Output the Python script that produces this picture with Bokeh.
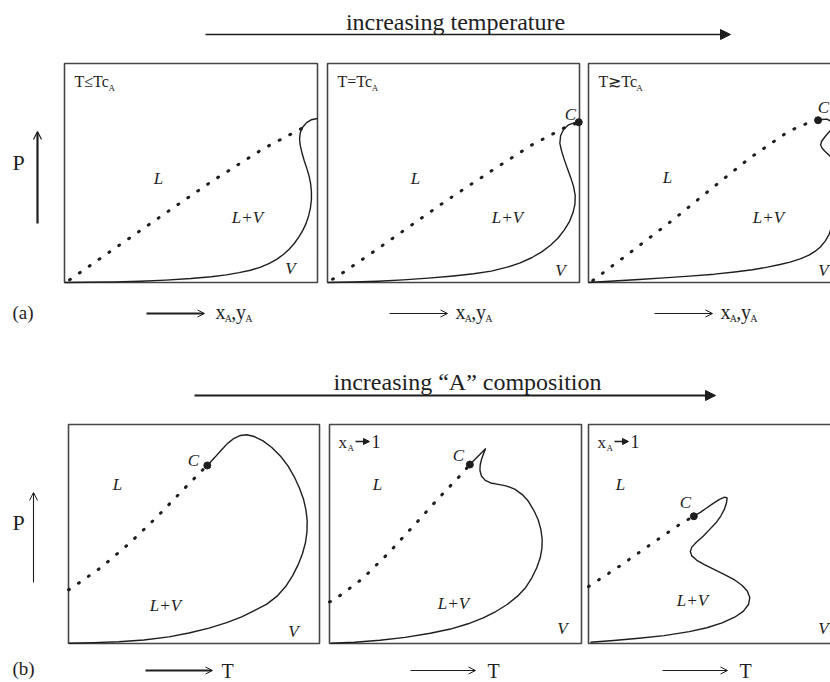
import numpy as np
from bokeh.plotting import figure
from bokeh.models import Range1d, Arrow, NormalHead, OpenHead
from bokeh.core.properties import value
from bokeh.embed import file_html
from bokeh.resources import INLINE

# ---------------------------------------------------------------------------
# Phase envelopes, in panel units: u runs 0..1 left to right, v runs 0..1 up.
# Row (a): P vs x_A,y_A at three temperatures. Row (b): P vs T at three
# compositions. "bubble" = dotted liquid boundary, "dew" = solid vapour boundary.
# ---------------------------------------------------------------------------
a1_bubble_u = [0.02, 0.2, 0.382, 0.581, 0.787, 0.96]
a1_bubble_v = [0.012, 0.157, 0.303, 0.461, 0.612, 0.717]
a1_dew_u = [0.0, 0.1, 0.2, 0.3, 0.4, 0.5, 0.58, 0.64, 0.69, 0.735, 0.775, 0.81, 0.84,
            0.865, 0.888, 0.908, 0.926, 0.942, 0.955, 0.965, 0.972, 0.976, 0.976, 0.973,
            0.967, 0.958, 0.948, 0.939, 0.932, 0.929, 0.932, 0.942, 0.957, 0.975, 1.0]
a1_dew_v = [0.0, 0.001, 0.003, 0.006, 0.011, 0.018, 0.026, 0.035, 0.045, 0.056, 0.07,
            0.087, 0.107, 0.128, 0.152, 0.178, 0.207, 0.238, 0.27, 0.305, 0.34, 0.378,
            0.415, 0.45, 0.485, 0.52, 0.555, 0.59, 0.625, 0.655, 0.685, 0.71, 0.73,
            0.743, 0.749]

a2_bubble_u = [0.02, 0.045, 0.167, 0.316, 0.472, 0.647, 0.812, 0.94, 0.99]
a2_bubble_v = [0.015, 0.032, 0.128, 0.248, 0.374, 0.507, 0.629, 0.706, 0.728]
a2_dew_u = [0.0, 0.1, 0.2, 0.3, 0.4, 0.5, 0.58, 0.65, 0.713, 0.765, 0.81, 0.85, 0.885,
            0.915, 0.94, 0.96, 0.974, 0.982, 0.983, 0.976, 0.965, 0.952, 0.94, 0.929,
            0.922, 0.925, 0.937, 0.957, 0.978, 0.997]
a2_dew_v = [0.0, 0.002, 0.006, 0.012, 0.02, 0.03, 0.04, 0.052, 0.07, 0.09, 0.113, 0.14,
            0.17, 0.203, 0.24, 0.278, 0.318, 0.358, 0.398, 0.44, 0.48, 0.52, 0.56, 0.6,
            0.635, 0.67, 0.7, 0.72, 0.729, 0.732]

a3_bubble_u = [0.017, 0.176, 0.332, 0.484, 0.636, 0.795, 0.884, 0.905]
a3_bubble_v = [0.009, 0.146, 0.283, 0.425, 0.565, 0.691, 0.735, 0.740]
a3_dew_u = [0.0, 0.1, 0.2, 0.3, 0.4, 0.5, 0.58, 0.65, 0.71, 0.76, 0.8, 0.84, 0.875, 0.9,
            0.92, 0.94, 0.955, 0.965, 0.975, 0.985, 0.99, 0.99, 0.984, 0.972, 0.958,
            0.94, 0.928, 0.921, 0.925, 0.94, 0.96, 0.968, 0.962, 0.947, 0.927, 0.911]
a3_dew_v = [0.0, 0.007, 0.014, 0.021, 0.029, 0.038, 0.048, 0.058, 0.07, 0.082, 0.093,
            0.108, 0.125, 0.143, 0.162, 0.19, 0.22, 0.255, 0.3, 0.36, 0.43, 0.48, 0.52,
            0.552, 0.578, 0.597, 0.612, 0.628, 0.645, 0.668, 0.694, 0.715, 0.735, 0.746,
            0.744, 0.741]

b1_bubble_u = [0.0, 0.012, 0.131, 0.243, 0.349, 0.45, 0.545]
b1_bubble_v = [0.245, 0.253, 0.348, 0.458, 0.574, 0.694, 0.805]
b1_dew_u = [0.001, 0.1, 0.2, 0.3, 0.4, 0.48, 0.56, 0.63, 0.69, 0.74, 0.79, 0.83, 0.865,
            0.893, 0.915, 0.932, 0.944, 0.95, 0.951, 0.946, 0.936, 0.92, 0.9, 0.875,
            0.845, 0.81, 0.775, 0.74, 0.71, 0.685, 0.66, 0.635, 0.61, 0.583, 0.553]
b1_dew_v = [0.001, 0.004, 0.008, 0.016, 0.03, 0.048, 0.07, 0.095, 0.122, 0.15, 0.18,
            0.215, 0.26, 0.31, 0.36, 0.41, 0.46, 0.51, 0.56, 0.61, 0.66, 0.71, 0.76,
            0.81, 0.855, 0.895, 0.925, 0.945, 0.953, 0.95, 0.937, 0.915, 0.885, 0.85,
            0.813]

b2_bubble_u = [0.0, 0.015, 0.13, 0.235, 0.335, 0.431, 0.531, 0.55]
b2_bubble_v = [0.19, 0.196, 0.295, 0.414, 0.539, 0.661, 0.782, 0.808]
b2_dew_u = [0.004, 0.1, 0.2, 0.3, 0.4, 0.48, 0.55, 0.61, 0.66, 0.705, 0.745, 0.778,
            0.803, 0.822, 0.836, 0.843, 0.844, 0.839, 0.828, 0.812, 0.79, 0.765, 0.735,
            0.7, 0.665, 0.64, 0.618, 0.603, 0.597, 0.598, 0.603, 0.611, 0.619, 0.557]
b2_dew_v = [0.001, 0.006, 0.015, 0.028, 0.047, 0.066, 0.09, 0.117, 0.146, 0.178, 0.215,
            0.255, 0.3, 0.345, 0.39, 0.435, 0.475, 0.52, 0.565, 0.605, 0.648, 0.68, 0.705,
            0.72, 0.728, 0.733, 0.745, 0.765, 0.79, 0.815, 0.84, 0.865, 0.889, 0.817]

b3_bubble_u = [0.0, 0.127, 0.246, 0.368, 0.41]
b3_bubble_v = [0.26, 0.356, 0.452, 0.549, 0.576]
b3_dew_u = [0.008, 0.1, 0.2, 0.3, 0.4, 0.47, 0.53, 0.58, 0.615, 0.635, 0.64, 0.63, 0.61,
            0.58, 0.54, 0.5, 0.46, 0.43, 0.41, 0.404, 0.41, 0.428, 0.455, 0.48, 0.505,
            0.525, 0.54, 0.548, 0.55, 0.54, 0.52, 0.495, 0.47, 0.445, 0.418]
b3_dew_v = [0.006, 0.014, 0.024, 0.036, 0.054, 0.072, 0.094, 0.12, 0.148, 0.178, 0.21,
            0.24, 0.265, 0.29, 0.315, 0.337, 0.36, 0.38, 0.4, 0.42, 0.44, 0.462, 0.49,
            0.52, 0.55, 0.582, 0.615, 0.645, 0.665, 0.668, 0.658, 0.64, 0.62, 0.6, 0.581]

# critical points (panels 2 and 3 of row a, all panels of row b)
crit_a_u = [0.997, 0.911]
crit_a_v = [0.732, 0.741]
crit_b_u = [0.553, 0.557, 0.418]
crit_b_v = [0.813, 0.817, 0.581]

# texts
conditions_a = ["T\u2264Tc", "T=Tc", "T\u2273Tc"]
title_a = "increasing temperature"
title_b = "increasing \u201cA\u201d composition"

# ---------------------------------------------------------------------------
W, H = 830, 682
FONT = value("Liberation Serif")
INK = "#1e1e1e"
FRAME = "#464646"

p = figure(width=W, height=H, x_range=Range1d(0, W), y_range=Range1d(H, 0),
           x_axis_location=None, y_axis_location=None, toolbar_location=None,
           output_backend="svg", min_border=0)
p.outline_line_color = None
p.grid.visible = False
p.background_fill_color = "white"
p.border_fill_color = "white"

# panel boxes on the page: left, top, right, bottom
ROW_A = [(64, 63, 317, 282), (327, 63, 579, 282), (588, 63, 840, 282)]
ROW_B = [(68, 424, 319, 643), (329, 424, 581, 643), (588, 424, 840, 643)]

# approximate advance widths (em) for laying out sub-scripted labels
ADV = {"T": 0.611, "\u2264": 0.549, "\u2273": 0.8, "=": 0.564, "c": 0.444,
       "x": 0.5, "y": 0.5, ",": 0.25, "A": 0.722, "1": 0.5}


def tw(s, size):
    return sum(ADV.get(ch, 0.5) for ch in s) * size * 0.92


def to_page(box, u, v):
    l, t, r, b = box
    u = np.asarray(u, float)
    v = np.asarray(v, float)
    return l + u * (r - l), b - v * (b - t)


def frame(box):
    l, t, r, b = box
    p.quad(left=[l], right=[r], top=[t], bottom=[b], fill_color=None,
           line_color=FRAME, line_width=1.6)


def dew(box, u, v):
    x, y = to_page(box, u, v)
    p.line(x, y, line_color=INK, line_width=1.4, line_join="round")


def bubble(box, u, v):
    x, y = to_page(box, u, v)
    p.line(x, y, line_color=INK, line_width=3.0, line_dash="1 11", line_cap="round")


def crit(box, u, v):
    x, y = to_page(box, [u], [v])
    p.scatter(x, y, size=7, color=INK)


def txt(x, y, s, size, italic=False, align="left"):
    # y is the vertical middle of the text's em box
    p.text(x=[x], y=[y], text=[s], text_font=FONT, text_font_size=f"{size}px",
           text_font_style="italic" if italic else "normal",
           text_align=align, text_baseline="middle", text_color=INK)


def arrow(x0, y0, x1, y1, lw, head):
    p.add_layout(Arrow(end=head, x_start=x0, y_start=y0, x_end=x1, y_end=y1,
                       line_width=lw, line_color=INK))


def filled(size):
    return NormalHead(size=size, fill_color=INK, line_color=INK, line_width=1)


def open_head(size, lw):
    return OpenHead(size=size, line_color=INK, line_width=lw)


# ---- frames and curves ----
for box in ROW_A + ROW_B:
    frame(box)

for box, bu, bv, du, dv in [
    (ROW_A[0], a1_bubble_u, a1_bubble_v, a1_dew_u, a1_dew_v),
    (ROW_A[1], a2_bubble_u, a2_bubble_v, a2_dew_u, a2_dew_v),
    (ROW_A[2], a3_bubble_u, a3_bubble_v, a3_dew_u, a3_dew_v),
    (ROW_B[0], b1_bubble_u, b1_bubble_v, b1_dew_u, b1_dew_v),
    (ROW_B[1], b2_bubble_u, b2_bubble_v, b2_dew_u, b2_dew_v),
    (ROW_B[2], b3_bubble_u, b3_bubble_v, b3_dew_u, b3_dew_v),
]:
    bubble(box, bu, bv)
    dew(box, du, dv)

for box, u, v in zip(ROW_A[1:], crit_a_u, crit_a_v):
    crit(box, u, v)
for box, u, v in zip(ROW_B, crit_b_u, crit_b_v):
    crit(box, u, v)

# ---- region labels ----
for x, y in [(158, 178), (415, 178), (667, 177), (117, 484), (377, 484), (620, 484)]:
    txt(x, y, "L", 17, italic=True, align="center")
for x, y in [(247, 217), (507, 217), (768, 217), (165, 605), (453, 603), (692, 600)]:
    txt(x, y, "L+V", 17, italic=True, align="center")
for x, y in [(290, 268), (560, 270), (823, 270), (293, 631), (562, 628), (823, 628)]:
    txt(x, y, "V", 17, italic=True, align="center")
for x, y in [(570, 114), (823, 107), (193, 460), (458, 455), (685, 502)]:
    txt(x, y, "C", 17, italic=True, align="center")

# ---- panel conditions ----
for box, cond in zip(ROW_A, conditions_a):
    x0 = box[0] + 10
    txt(x0, 81, cond, 16)
    txt(x0 + tw(cond, 16) + 1.5, 87, "A", 9)

for box in ROW_B[1:]:
    x0 = box[0] + 9
    txt(x0, 442, "x", 17)
    txt(x0 + 9, 447, "A", 9)
    arrow(x0 + 17, 441, x0 + 31, 441, 1.6, filled(6))
    txt(x0 + 33, 441, "1", 18)

# ---- headers ----
txt(455, 21, title_a, 24, align="center")
arrow(205, 34, 730, 34, 1.3, filled(10))
txt(467, 381, title_b, 24, align="center")
arrow(194, 395, 715, 395, 2.0, filled(10))

# ---- pressure axes ----
txt(12, 162, "P", 22)
arrow(37, 223, 37, 131, 2.2, open_head(8, 1.2))
txt(12, 522, "P", 22)
arrow(33, 582, 33, 492, 1.1, open_head(8, 1.0))

# ---- row labels ----
txt(12, 312, "(a)", 19)
txt(12, 668, "(b)", 19)

# ---- composition axes (row a) ----
for (xs, xe, lw, xt) in [(146, 204, 2.0, 215), (389, 447, 1.2, 455), (654, 712, 1.2, 720)]:
    arrow(xs, 313, xe, 313, lw, open_head(7, 1.0))
    x = xt
    txt(x, 311, "x", 20)
    x += tw("x", 20)
    txt(x, 318, "A", 10)
    x += tw("A", 10)
    txt(x, 311, ",", 20)
    x += tw(",", 20)
    txt(x, 311, "y", 20)
    x += tw("y", 20)
    txt(x, 318, "A", 10)

# ---- temperature axes (row b) ----
for (xs, xe, lw, xt) in [(145, 212, 2.0, 221), (410, 475, 1.2, 487), (662, 727, 1.2, 739)]:
    arrow(xs, 670, xe, 670, lw, open_head(7, 1.0))
    txt(xt, 670, "T", 20)

open("out.html", "w").write(file_html(p, INLINE))
